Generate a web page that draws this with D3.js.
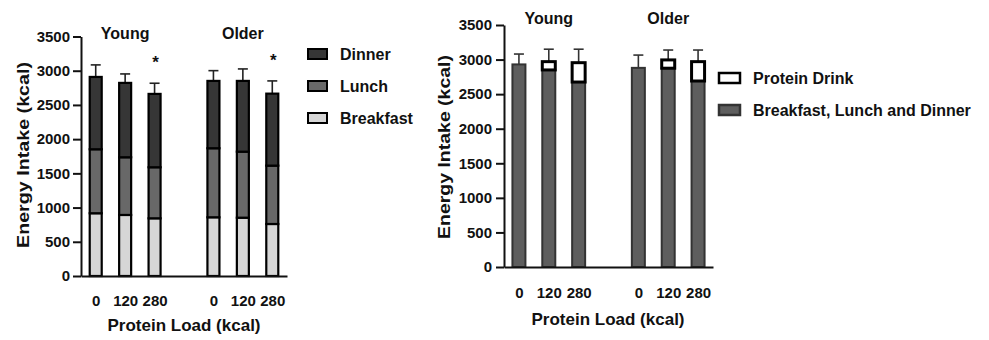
<html>
  <head>
    <title>Energy intake by protein load</title>
    <script src="https://d3js.org/d3.v7.min.js"></script>
    <style>
      body { margin: 0; background: #fff; }
      text { font-family: "Liberation Sans", Arial, sans-serif; font-weight: bold; fill: #111; }
    </style>
  </head>
  <body>
    <svg width="989" height="340" id="chart"></svg>
  </body>

  <script type="text/javascript">

    // categories
    var groups = ["Young", "Older"];
    var loads = ["0", "120", "280"];
    var yTicks = [0, 500, 1000, 1500, 2000, 2500, 3000, 3500];

    // left panel: meals per condition (Young 0,120,280 then Older 0,120,280)
    var breakfast = [917, 892, 843, 858, 852, 760];
    var lunch     = [935, 843, 746, 1009, 965, 853];
    var dinner    = [1057, 1087, 1072, 984, 1034, 1052];
    var mealSD    = [176, 131, 156, 150, 175, 186];
    var starred   = [false, false, true, false, false, true];

    // right panel: meals total + protein drink
    var mealsTotal   = [2930, 2850, 2675, 2880, 2875, 2690];
    var proteinDrink = [0, 120, 280, 0, 120, 280];
    var totalSD      = [150, 180, 195, 185, 143, 168];

    var mealNames = ["Breakfast", "Lunch", "Dinner"];
    var mealColors = ["#d6d6d6", "#686868", "#363636"];

    // keys: 3 per group with an empty slot in between
    var keys = [];
    groups.forEach(function(g, gi) {
        if (gi > 0) keys.push("gap");
        loads.forEach(function(l) { keys.push(g + l); });
    });
    var condKeys = keys.filter(function(k){ return k !== "gap"; });

    var svg = d3.select("#chart");

    function drawAxes(g, x, y, opt) {
        var yAxis = g.append("g")
            .attr("transform", "translate(" + opt.left + ",0)")
            .call(d3.axisLeft(y).tickValues(yTicks).tickFormat(d3.format("d"))
                .tickSize(8).tickSizeOuter(0).tickPadding(opt.yPad));
        yAxis.selectAll("text").style("font-size", "15px");

        var xAxis = g.append("g")
            .attr("transform", "translate(0," + y(0) + ")")
            .call(d3.axisBottom(x).tickSize(0).tickPadding(opt.tickPad)
                .tickFormat(function(k){ return k === "gap" ? "" : k.replace(/^(Young|Older)/, ""); }));
        xAxis.selectAll("text").style("font-size", "15px");

        g.selectAll(".domain").attr("stroke", "#111").attr("stroke-width", 2);
        g.selectAll(".tick line").attr("stroke", "#111").attr("stroke-width", 2);

        // group titles
        groups.forEach(function(grp) {
            var mid = x(grp + loads[1]);
            g.append("text")
                .attr("x", mid)
                .attr("y", opt.titleY)
                .attr("text-anchor", "middle")
                .style("font-size", "16px")
                .text(grp);
        });

        g.append("text")
            .attr("transform", "translate(" + opt.yTitleX + "," + opt.yTitleMid + ") rotate(-90)")
            .attr("text-anchor", "middle")
            .attr("textLength", opt.yTitleLen)
            .attr("lengthAdjust", "spacingAndGlyphs")
            .style("font-size", "17px")
            .text("Energy Intake (kcal)");

        g.append("text")
            .attr("x", opt.xTitleMid)
            .attr("y", opt.xTitleY)
            .attr("text-anchor", "middle")
            .style("font-size", "17px")
            .text("Protein Load (kcal)");
    }

    function errorBars(g, x, y, tops, sds, color) {
        var cap = 5;
        var eb = g.append("g").attr("stroke", color).attr("stroke-width", 1.6);
        condKeys.forEach(function(k, i) {
            var cx = x(k);
            eb.append("line")
                .attr("x1", cx).attr("x2", cx)
                .attr("y1", y(tops[i])).attr("y2", y(tops[i] + sds[i]));
            eb.append("line")
                .attr("x1", cx - cap).attr("x2", cx + cap)
                .attr("y1", y(tops[i] + sds[i])).attr("y2", y(tops[i] + sds[i]));
        });
    }

    // ---------- left panel ----------
    var L = { left: 81, right: 287, bottom: 276, top: 36.5, tickPad: 19, yPad: 3, titleY: 38.5,
              yTitleX: 29, yTitleMid: 155, yTitleLen: 186, xTitleMid: 184, xTitleY: 331 };
    var xL = d3.scalePoint().domain(keys).range([L.left, L.right]).padding(0.5);
    var yL = d3.scaleLinear().domain([0, 3500]).range([L.bottom, L.top]);
    var gL = svg.append("g");

    var stackData = condKeys.map(function(k, i) {
        return { key: k, Breakfast: breakfast[i], Lunch: lunch[i], Dinner: dinner[i] };
    });
    var series = d3.stack().keys(mealNames)(stackData);
    var totalsL = condKeys.map(function(k, i){ return breakfast[i] + lunch[i] + dinner[i]; });

    errorBars(gL, xL, yL, totalsL, mealSD, "#222");

    var bwL = 12;
    gL.selectAll("g.meal")
        .data(series)
        .enter().append("g")
        .attr("class", "meal")
        .attr("fill", function(d, i){ return mealColors[i]; })
        .selectAll("rect")
        .data(function(d){ return d; })
        .enter().append("rect")
        .attr("x", function(d){ return xL(d.data.key) - bwL / 2; })
        .attr("y", function(d){ return yL(d[1]); })
        .attr("width", bwL)
        .attr("height", function(d){ return yL(d[0]) - yL(d[1]); })
        .attr("stroke", "#000")
        .attr("stroke-width", 2.2);

    condKeys.forEach(function(k, i) {
        if (!starred[i]) return;
        gL.append("text")
            .attr("x", xL(k) + 1)
            .attr("y", yL(totalsL[i] + mealSD[i]) - 15)
            .attr("text-anchor", "middle")
            .style("font-size", "17px")
            .text("*");
    });

    drawAxes(gL, xL, yL, L);

    var legL = gL.append("g");
    ["Dinner", "Lunch", "Breakfast"].forEach(function(name, i) {
        var cy = 54 + i * 32;
        legL.append("rect")
            .attr("x", 308).attr("y", cy - 5)
            .attr("width", 19).attr("height", 10)
            .attr("fill", mealColors[mealNames.indexOf(name)])
            .attr("stroke", "#000").attr("stroke-width", 2);
        legL.append("text")
            .attr("x", 340).attr("y", cy + 6)
            .style("font-size", "16px")
            .text(name);
    });

    // ---------- right panel ----------
    var R = { left: 504, right: 713, bottom: 267, top: 25, tickPad: 20, yPad: 4, titleY: 24,
              yTitleX: 450, yTitleMid: 147, yTitleLen: 184, xTitleMid: 608, xTitleY: 325 };
    var xR = d3.scalePoint().domain(keys).range([R.left, R.right]).padding(0.5);
    var yR = d3.scaleLinear().domain([0, 3500]).range([R.bottom, R.top]);
    var gR = svg.append("g");

    var totalsR = condKeys.map(function(k, i){ return mealsTotal[i] + proteinDrink[i]; });
    errorBars(gR, xR, yR, totalsR, totalSD, "#333");

    var bwR = 13;
    gR.selectAll("rect.meals")
        .data(condKeys)
        .enter().append("rect")
        .attr("class", "meals")
        .attr("x", function(k){ return xR(k) - bwR / 2; })
        .attr("y", function(k, i){ return yR(mealsTotal[i]); })
        .attr("width", bwR)
        .attr("height", function(k, i){ return yR(0) - yR(mealsTotal[i]); })
        .attr("fill", "#5e5e5e")
        .attr("stroke", "#333")
        .attr("stroke-width", 2);

    gR.selectAll("rect.drink")
        .data(condKeys.filter(function(k, i){ return proteinDrink[i] > 0; }))
        .enter().append("rect")
        .attr("class", "drink")
        .attr("x", function(k){ return xR(k) - bwR / 2; })
        .attr("y", function(k){ var i = condKeys.indexOf(k); return yR(totalsR[i]); })
        .attr("width", bwR)
        .attr("height", function(k){ var i = condKeys.indexOf(k); return yR(mealsTotal[i]) - yR(totalsR[i]); })
        .attr("fill", "#fff")
        .attr("stroke", "#000")
        .attr("stroke-width", 3);

    drawAxes(gR, xR, yR, R);

    var legR = gR.append("g");
    [["Protein Drink", "#fff", "#000"], ["Breakfast, Lunch and Dinner", "#5e5e5e", "#333"]].forEach(function(d, i) {
        var cy = 78 + i * 32;
        legR.append("rect")
            .attr("x", 719).attr("y", cy - 5)
            .attr("width", 21).attr("height", 10)
            .attr("fill", d[1])
            .attr("stroke", d[2]).attr("stroke-width", 2.5);
        legR.append("text")
            .attr("x", 753).attr("y", cy + 6)
            .style("font-size", "16px")
            .text(d[0]);
    });

  </script>
</html>
